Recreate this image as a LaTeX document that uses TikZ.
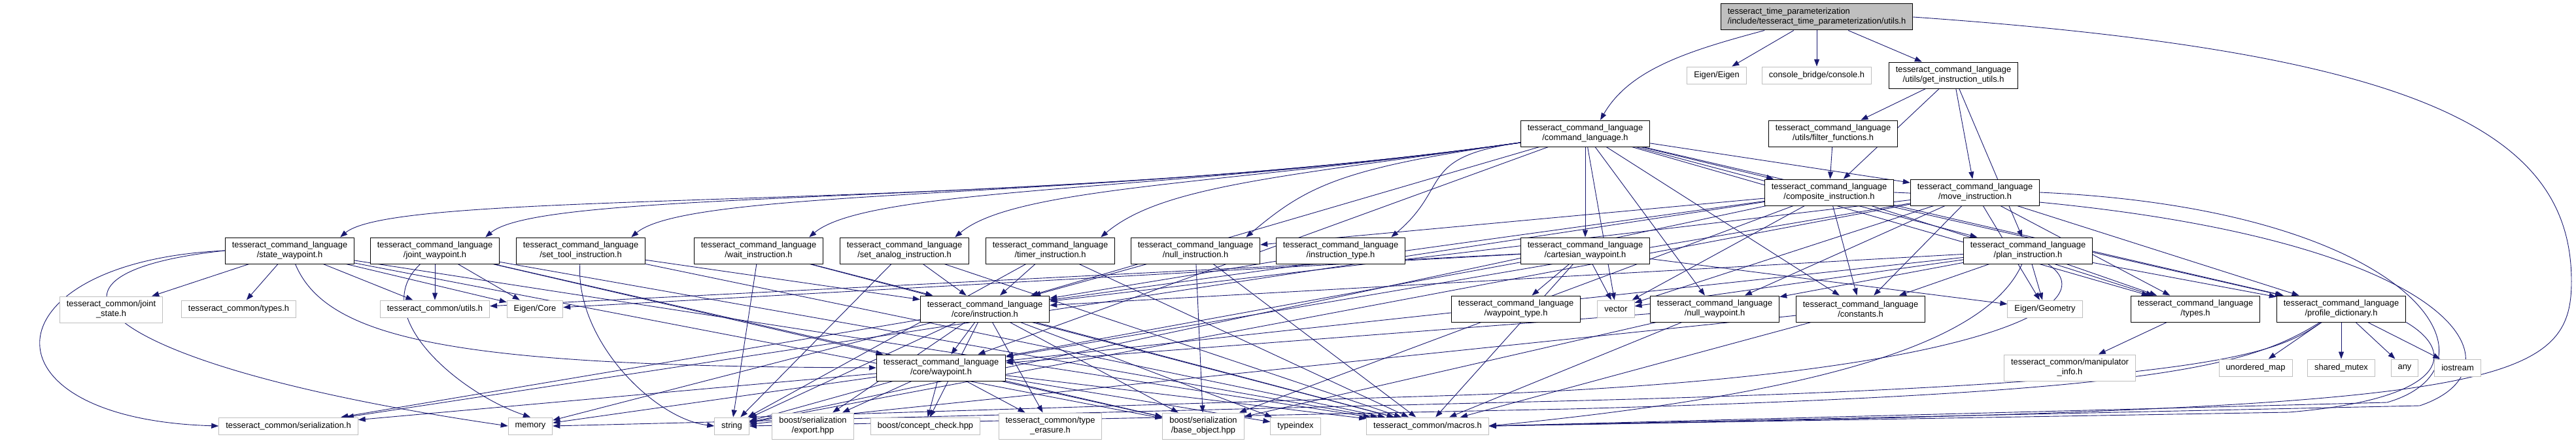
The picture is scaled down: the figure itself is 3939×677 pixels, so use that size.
\documentclass[tikz,border=0pt]{standalone}
\usepackage{fontspec}
\setmainfont{Liberation Sans}
\usetikzlibrary{arrows.meta,backgrounds}
\definecolor{edgeblue}{HTML}{191970}
\definecolor{extgray}{HTML}{BFBFBF}
\begin{document}
\begin{tikzpicture}[x=1pt,y=1pt,
  hdr/.style={draw=black,line width=1pt,fill=white,align=center,inner xsep=10.5pt,inner ysep=0pt,
    minimum height=40pt,font=\fontsize{12.9}{15}\selectfont},
  sys/.style={hdr,draw=extgray,minimum height=26pt},
  sys2/.style={sys,minimum height=40pt},
  dep/.style={edgeblue,line width=0.9pt,-{Triangle[length=11pt,width=8pt]}}]
  \useasboundingbox (0,0) rectangle (3939,-677);
  \node[hdr,fill=extgray,align=left] (root) at (2778,-26)
    {tesseract\_time\_parameterization\\/include/tesseract\_time\_parameterization/utils.h};
  \node[sys] (eigen) at (2625,-115) {Eigen/Eigen};
  \node[sys] (console) at (2778,-115) {console\_bridge/console.h};
  \node[hdr] (getinstr) at (2987,-115) {tesseract\_command\_language\\/utils/get\_instruction\_utils.h};
  \node[hdr] (cmdlang) at (2424,-204) {tesseract\_command\_language\\/command\_language.h};
  \node[hdr] (filterfn) at (2803,-204) {tesseract\_command\_language\\/utils/filter\_functions.h};
  \node[hdr] (composite) at (2797,-294) {tesseract\_command\_language\\/composite\_instruction.h};
  \node[hdr] (move) at (3020,-294) {tesseract\_command\_language\\/move\_instruction.h};
  \node[hdr] (state) at (443,-383) {tesseract\_command\_language\\/state\_waypoint.h};
  \node[hdr] (jointwp) at (665,-383) {tesseract\_command\_language\\/joint\_waypoint.h};
  \node[hdr] (settool) at (888,-383) {tesseract\_command\_language\\/set\_tool\_instruction.h};
  \node[hdr] (waitinstr) at (1160,-383) {tesseract\_command\_language\\/wait\_instruction.h};
  \node[hdr] (setanalog) at (1383,-383) {tesseract\_command\_language\\/set\_analog\_instruction.h};
  \node[hdr] (timer) at (1606,-383) {tesseract\_command\_language\\/timer\_instruction.h};
  \node[hdr] (nullinstr) at (1828,-383) {tesseract\_command\_language\\/null\_instruction.h};
  \node[hdr] (insttype) at (2050,-383) {tesseract\_command\_language\\/instruction\_type.h};
  \node[hdr] (cartwp) at (2424,-383) {tesseract\_command\_language\\/cartesian\_waypoint.h};
  \node[hdr] (plan) at (3101,-383) {tesseract\_command\_language\\/plan\_instruction.h};
  \node[sys2] (jointstate) at (170,-473) {tesseract\_common/joint\\\_state.h};
  \node[sys] (tctypes) at (365,-472) {tesseract\_common/types.h};
  \node[sys] (tcutils) at (665,-472) {tesseract\_common/utils.h};
  \node[sys] (eigencore) at (818,-472) {Eigen/Core};
  \node[hdr] (instr) at (1506,-472) {tesseract\_command\_language\\/core/instruction.h};
  \node[hdr] (wptype) at (2318,-472) {tesseract\_command\_language\\/waypoint\_type.h};
  \node[sys] (vector) at (2471,-472) {vector};
  \node[hdr] (nullwp) at (2622,-472) {tesseract\_command\_language\\/null\_waypoint.h};
  \node[hdr] (constants) at (2845,-472) {tesseract\_command\_language\\/constants.h};
  \node[sys] (geometry) at (3127,-472) {Eigen/Geometry};
  \node[hdr] (tcltypes) at (3357,-472) {tesseract\_command\_language\\/types.h};
  \node[hdr] (profile) at (3580,-472) {tesseract\_command\_language\\/profile\_dictionary.h};
  \node[hdr] (waypoint) at (1439,-562) {tesseract\_command\_language\\/core/waypoint.h};
  \node[sys2] (manip) at (3165,-562) {tesseract\_common/manipulator\\\_info.h};
  \node[sys] (umap) at (3449,-562) {unordered\_map};
  \node[sys] (smutex) at (3580,-562) {shared\_mutex};
  \node[sys] (any) at (3677,-562) {any};
  \node[sys] (iostream) at (3758,-562) {iostream};
  \node[sys] (serial) at (441,-651) {tesseract\_common/serialization.h};
  \node[sys] (memory) at (811,-651) {memory};
  \node[sys] (string) at (1119,-651) {string};
  \node[sys2] (export) at (1243,-651) {boost/serialization\\/export.hpp};
  \node[sys] (concept) at (1415,-651) {boost/concept\_check.hpp};
  \node[sys2] (typeerasure) at (1606,-651) {tesseract\_common/type\\\_erasure.h};
  \node[sys2] (baseobj) at (1840,-651) {boost/serialization\\/base\_object.hpp};
  \node[sys] (typeindex) at (1981,-651) {typeindex};
  \node[sys] (macros) at (2183,-651) {tesseract\_common/macros.h};
  \coordinate (rr) at (3932,-430);
  \begin{scope}[on background layer]
    \foreach \a/\b in {root/eigen,root/console,root/getinstr,
      getinstr/filterfn,getinstr/composite,getinstr/move,getinstr/plan,filterfn/composite,
      cmdlang/cartwp,cmdlang/nullwp,
      cmdlang/constants,cmdlang/composite,cmdlang/move,cmdlang/plan,cmdlang/tcltypes,
      cmdlang/profile,cmdlang/vector,cmdlang/instr,cmdlang/waypoint,
      composite/instr,composite/nullinstr,composite/vector,composite/constants,
      composite/tcltypes,composite/profile,composite/string,composite/serial,composite/baseobj,
      move/instr,move/waypoint,move/nullwp,move/constants,move/tcltypes,move/profile,
      move/geometry,move/vector,move/string,
      plan/instr,plan/waypoint,plan/nullwp,plan/constants,plan/geometry,plan/tcltypes,
      plan/profile,plan/vector,
      state/jointstate,state/tctypes,state/tcutils,state/eigencore,state/macros,state/baseobj,
      jointwp/tcutils,jointwp/eigencore,jointwp/waypoint,jointwp/macros,jointwp/baseobj,
      settool/instr,settool/macros,waitinstr/string,waitinstr/instr,waitinstr/macros,
      setanalog/string,setanalog/instr,setanalog/macros,timer/string,timer/instr,timer/macros,
      nullinstr/instr,nullinstr/baseobj,nullinstr/macros,insttype/instr,
      cartwp/wptype,cartwp/vector,cartwp/waypoint,cartwp/geometry,cartwp/macros,
      cartwp/eigencore,cartwp/tcutils,
      nullwp/waypoint,nullwp/macros,nullwp/baseobj,constants/string,constants/macros,
      tcltypes/manip,profile/umap,profile/smutex,profile/any,profile/iostream,
      instr/waypoint,instr/concept,instr/typeerasure,instr/baseobj,instr/export,instr/string,
      instr/memory,instr/typeindex,instr/macros,instr/serial,
      waypoint/concept,waypoint/typeerasure,waypoint/baseobj,waypoint/export,waypoint/string,
      waypoint/memory,waypoint/typeindex,waypoint/macros,waypoint/serial}
      \draw[dep] (\a) -- (\b);
    \foreach \t/\d in {state/800,jointwp/720,settool/640,waitinstr/540,setanalog/460,
      timer/380,nullinstr/280,insttype/160}
      \draw[dep] (cmdlang.188) .. controls +(188:\d) and +(40:120) .. ([xshift=-22pt]\t.north east);
    \draw[dep] ([xshift=-80pt]root.south) .. controls +(195:120) and +(60:90) .. ([xshift=23pt]cmdlang.north);
    \draw[dep] (root.east) .. controls (3700,-80) and (3932,-200) .. (rr) .. controls (3932,-600) and (3800,-625) .. (macros.east);
    \draw[dep] (composite.east) .. controls (3750,-330) and (3880,-560) .. (3700,-620) -- (macros.east);
    \draw[dep] (move.east) .. controls (3700,-320) and (3840,-560) .. (3650,-615) -- (macros.east);
    \draw[dep] (profile.south east) .. controls (3760,-540) and (3740,-610) .. (3500,-630) -- (macros.east);
    \draw[dep] (plan) .. controls (3040,-520) and (2800,-600) .. (macros.east);
    \draw[dep] (plan) .. controls (3230,-470) and (3000,-580) .. (2200,-605) -- (string.north east);
    \draw[dep] (profile) .. controls (3480,-540) and (3400,-590) .. (2300,-615) -- (memory.east);
    \draw[dep] (profile) .. controls (3440,-560) and (3300,-600) .. (2400,-625) -- (string.east);
    \draw[dep] (state.west) .. controls (-20,-400) and (-40,-640) .. (serial.west);
    \draw[dep] (state.west) .. controls (0,-420) and (150,-560) .. (memory.west);
    \draw[dep] (state) .. controls (500,-520) and (700,-560) .. (waypoint.west);
    \draw[dep] (jointwp) .. controls (560,-480) and (700,-600) .. (memory.north);
    \draw[dep] (settool) .. controls (880,-520) and (1000,-640) .. (string.west);
  \end{scope}
\end{tikzpicture}
\end{document}
